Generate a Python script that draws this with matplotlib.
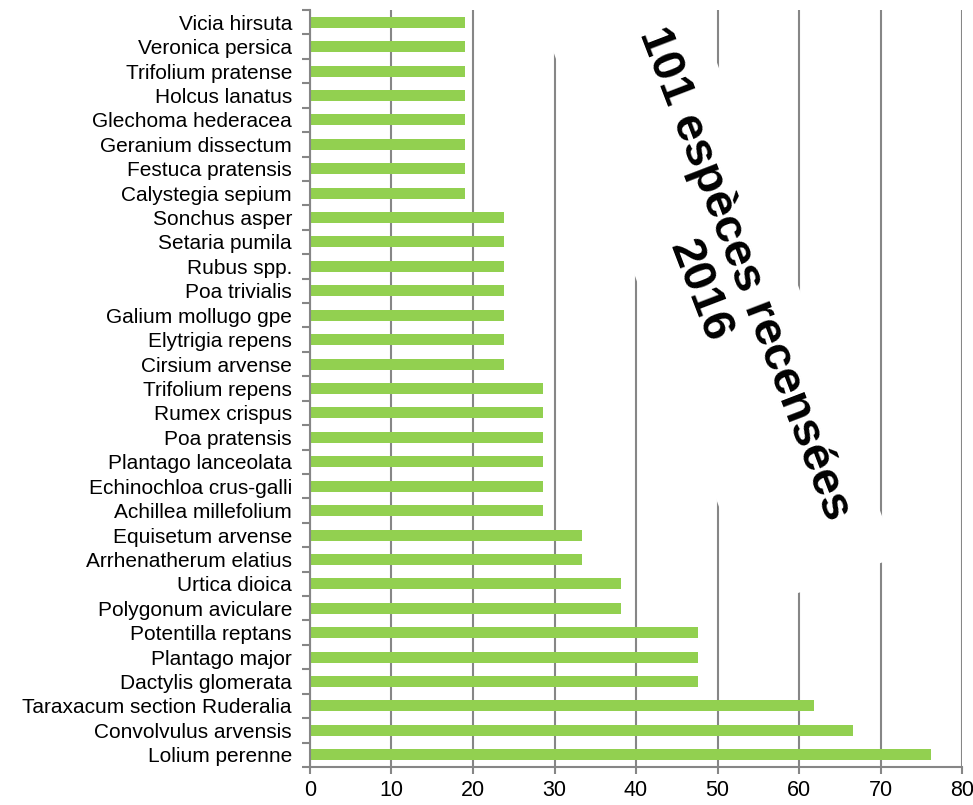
import matplotlib
matplotlib.use('Agg')
import matplotlib.pyplot as plt
from matplotlib.patches import Polygon
import numpy as np

plt.rcParams['font.family'] = ['Liberation Sans', 'DejaVu Sans']

# species from bottom (most frequent) to top
species = ['Lolium perenne', 'Convolvulus arvensis', 'Taraxacum section Ruderalia',
           'Dactylis glomerata', 'Plantago major', 'Potentilla reptans',
           'Polygonum aviculare', 'Urtica dioica',
           'Arrhenatherum elatius', 'Equisetum arvense',
           'Achillea millefolium', 'Echinochloa crus-galli', 'Plantago lanceolata',
           'Poa pratensis', 'Rumex crispus', 'Trifolium repens',
           'Cirsium arvense', 'Elytrigia repens', 'Galium mollugo gpe', 'Poa trivialis',
           'Rubus spp.', 'Setaria pumila', 'Sonchus asper',
           'Calystegia sepium', 'Festuca pratensis', 'Geranium dissectum',
           'Glechoma hederacea', 'Holcus lanatus', 'Trifolium pratense',
           'Veronica persica', 'Vicia hirsuta']
frequency = [76.19, 66.67, 61.90,
             47.62, 47.62, 47.62,
             38.10, 38.10,
             33.33, 33.33,
             28.57, 28.57, 28.57, 28.57, 28.57, 28.57,
             23.81, 23.81, 23.81, 23.81, 23.81, 23.81, 23.81,
             19.05, 19.05, 19.05, 19.05, 19.05, 19.05, 19.05, 19.05]
xticks = [0, 10, 20, 30, 40, 50, 60, 70, 80]

W, H = 973, 805
fig = plt.figure(figsize=(W / 100, H / 100), dpi=100)
ax = fig.add_axes([0.3186, 0.0472, 0.6701, 0.9404])

pos = np.arange(len(species))
ax.barh(pos, frequency, height=0.45, color='#92D050', zorder=2)

ax.set_xlim(0, 80)
ax.set_ylim(-0.5, len(species) - 0.5)
ax.set_xticks(xticks)
ax.set_yticks(pos)
ax.set_yticklabels(species)
ax.set_yticks(np.arange(len(species) + 1) - 0.5, minor=True)

ax.tick_params(axis='y', which='major', length=0, pad=13, labelsize=15)
ax.tick_params(axis='y', which='minor', length=6, width=1.5, color='#868686')
ax.tick_params(axis='x', which='major', length=5, width=1.5, color='#868686',
               pad=4, labelsize=15.5)

ax.grid(axis='x', color='#868686', linewidth=1.5, zorder=0)
ax.set_axisbelow(True)
for s in ['top', 'right']:
    ax.spines[s].set_visible(False)
for s in ['left', 'bottom']:
    ax.spines[s].set_color('#868686')
    ax.spines[s].set_linewidth(1.5)

# white rotated text box (pixel geometry, y measured from the top)
ang = np.deg2rad(70)
d = np.array([np.cos(ang), np.sin(ang)])
n = np.array([np.sin(ang), -np.cos(ang)])
c = np.array([717, 282])
corners = [c + sl * 320 * d + sw * 75 * n for sl, sw in [(1, 1), (1, -1), (-1, -1), (-1, 1)]]
corners = [(p[0] / W, 1 - p[1] / H) for p in corners]
ax.add_patch(Polygon(corners, closed=True, transform=fig.transFigure, clip_on=False,
                     facecolor='white', edgecolor='none', zorder=3))

ax.text(0.632, 0.64, '101 espèces recensées\n2016', transform=ax.transAxes,
        rotation=-69, rotation_mode='anchor', ha='center', va='center',
        multialignment='center', fontsize=34, fontweight='bold', linespacing=1.1,
        zorder=5)

plt.savefig('out.png', dpi=100)
